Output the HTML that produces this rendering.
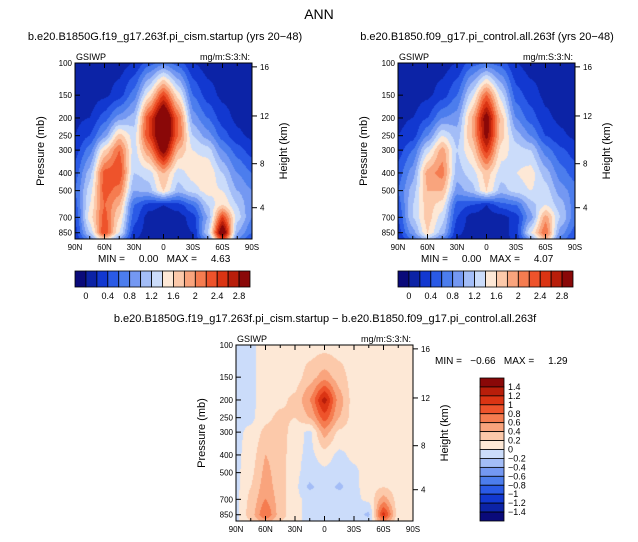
<!DOCTYPE html>
<html><head><meta charset="utf-8">
<style>
body{margin:0;background:#fff;width:638px;height:542px;overflow:hidden;position:relative;font-family:"Liberation Sans",sans-serif}
canvas{position:absolute}
svg{position:absolute;left:0;top:0}
</style></head>
<body>
<canvas id="c1" width="177" height="176" style="left:75px;top:63px"></canvas>
<canvas id="c2" width="177" height="176" style="left:398px;top:63px"></canvas>
<canvas id="c3" width="177" height="176" style="left:236px;top:345px"></canvas>
<svg id="ov" width="638" height="542"></svg>
<script>
const lats=[90,75,60,45,30,15,0,-15,-30,-45,-60,-75,-90];
const plevs=[100,150,200,250,300,400,500,600,700,850,925];
const cismField=[
[0.1,0.1,0.1,0.1,0.2,0.5,0.7,0.5,0.2,0.1,0.1,0.1,0.1],
[0.1,0.1,0.15,0.3,0.7,1.5,2.4,1.5,0.6,0.3,0.15,0.1,0.1],
[0.15,0.2,0.5,0.9,1.1,2.4,3.4,2.2,0.9,0.6,0.3,0.15,0.1],
[0.2,0.4,0.9,1.7,1.3,2.4,3.4,2.2,1.2,0.9,0.5,0.25,0.15],
[0.3,0.7,1.6,2.2,1.3,2.0,3.0,1.8,1.4,1.3,0.8,0.5,0.3],
[0.5,1.1,2.3,2.4,1.2,1.3,1.8,1.3,1.5,1.6,1.2,0.8,0.6],
[0.6,1.3,2.3,2.1,1.0,1.1,1.6,1.1,1.3,1.5,1.4,1.0,0.8],
[0.5,1.4,2.2,1.8,0.6,0.3,0.2,0.3,0.6,1.2,1.6,1.2,0.8],
[0.4,1.5,2.3,1.6,0.5,0.1,0.1,0.1,0.3,1.0,2.4,1.3,0.8],
[0.3,1.2,2.4,1.4,0.3,0.1,0.1,0.1,0.2,1.2,3.2,1.0,0.6],
[0.2,0.8,1.6,0.9,0.2,0.1,0.1,0.1,0.2,0.8,2.4,0.8,0.4]];
const controlField=[
[0.1,0.1,0.1,0.1,0.2,0.5,0.6,0.5,0.2,0.1,0.1,0.1,0.1],
[0.1,0.1,0.15,0.3,0.6,1.3,2.2,1.3,0.5,0.3,0.15,0.1,0.1],
[0.15,0.2,0.4,0.8,0.9,1.8,3.0,1.7,0.8,0.5,0.25,0.15,0.1],
[0.2,0.3,0.8,1.4,1.1,1.8,2.9,1.7,1.1,0.8,0.4,0.25,0.15],
[0.3,0.6,1.3,1.9,1.2,1.6,2.5,1.5,1.3,1.2,0.7,0.45,0.3],
[0.5,0.9,1.9,2.1,1.1,1.3,1.7,1.3,1.4,1.5,1.1,0.7,0.5],
[0.6,1.1,1.8,1.8,0.9,1.1,1.6,1.1,1.3,1.4,1.3,0.9,0.7],
[0.5,1.2,1.7,1.5,0.5,0.4,0.2,0.5,0.6,1.1,1.4,1.1,0.7],
[0.4,1.2,1.7,1.3,0.4,0.1,0.1,0.1,0.3,0.9,1.9,1.2,0.7],
[0.3,0.9,1.6,1.1,0.25,0.1,0.1,0.1,0.3,1.4,2.2,0.9,0.5],
[0.2,0.6,1.1,0.7,0.15,0.1,0.1,0.1,0.25,0.9,1.8,0.7,0.35]];
const diffField=[
[-0.05,-0.05,0.1,0.1,0.1,0.1,0.1,0.1,0.1,0.1,0.1,0.1,0.1],
[-0.05,-0.05,0.1,0.1,0.1,0.3,0.5,0.3,0.1,0.1,0.1,0.1,0.1],
[-0.05,-0.05,0.1,0.15,0.25,0.6,1.3,0.5,0.1,0.1,0.1,0.1,0.1],
[-0.05,-0.05,0.15,0.25,0.2,0.4,0.9,0.4,0.1,0.1,0.1,0.1,0.1],
[-0.05,0.05,0.25,0.3,0.1,-0.05,0.5,0.15,0.1,0.1,0.1,0.1,0.1],
[-0.05,0.1,0.4,0.3,0.05,-0.05,0.1,-0.05,0.05,0.1,0.1,0.1,0.1],
[-0.05,0.15,0.45,0.3,0.05,-0.1,-0.05,-0.1,-0.05,0.1,0.1,0.1,0.1],
[-0.05,0.2,0.5,0.3,0.05,-0.25,-0.05,-0.25,-0.05,0.1,0.2,0.1,0.1],
[-0.05,0.25,0.6,0.3,0.05,-0.05,-0.05,-0.05,-0.05,0.05,0.5,0.1,0.1],
[-0.05,0.3,0.8,0.3,0.05,-0.05,-0.05,-0.05,-0.1,-0.25,1.1,0.1,0.1],
[-0.05,0.2,0.5,0.2,0.05,-0.05,-0.05,-0.05,-0.05,-0.1,0.6,0.05,0.05]];
const topLevels=[0,0.2,0.4,0.6,0.8,1,1.2,1.4,1.6,1.8,2,2.2,2.4,2.6,2.8];
const topLabels=['0','0.4','0.8','1.2','1.6','2','2.4','2.8'];
const diffLevels=[-1.4,-1.2,-1,-0.8,-0.6,-0.4,-0.2,0,0.2,0.4,0.6,0.8,1,1.2,1.4];
const diffLabels=['1.4','1.2','1','0.8','0.6','0.4','0.2','0','\u22120.2','\u22120.4','\u22120.6','\u22120.8','\u22121','\u22121.2','\u22121.4'];
const latTicks=[90,60,30,0,-30,-60,-90];
const latLabels=['90N','60N','30N','0','30S','60S','90S'];
const pTicks=[100,150,200,250,300,400,500,700,850];
const hTicks=[4,8,12,16];
const hPress=[620,356,195,105];
const palette=['#0a0a7a','#0c23a6','#1238d0','#2a5ae6','#4c7ded','#7498f2','#a3bdf7','#cbdcfa','#fde8d6','#fcc9aa','#f9a47d','#f57c50','#ee532b','#db3413','#b81e0a','#8a0808'];
const PTOP=100,PBOT=920,W=177,H=176;
function yOfP(p){return (Math.log10(p)-2)/(Math.log10(PBOT)-2)*H;}
function pOfY(y){return Math.pow(10,2+y/H*(Math.log10(PBOT)-2));}
function xOfLat(l){return (90-l)/180*W;}
function hex(c){return [parseInt(c.substr(1,2),16),parseInt(c.substr(3,2),16),parseInt(c.substr(5,2),16)];}
const rgb=palette.map(hex);
function sm(t){return t*t*(3-2*t);}
function sample(f,lat,p){
  let t=(90-lat)/15;let i=Math.min(11,Math.max(0,Math.floor(t)));let fx=Math.min(1,Math.max(0,t-i));
  let lp=Math.log10(p);let j=0;
  while(j<plevs.length-2&&Math.log10(plevs[j+1])<lp)j++;
  let a=Math.log10(plevs[j]),b=Math.log10(plevs[j+1]);let fy=Math.min(1,Math.max(0,(lp-a)/(b-a)));
  fx=sm(fx)*0.5+fx*0.5;
  let v0=f[j][i]*(1-fx)+f[j][i+1]*fx, v1=f[j+1][i]*(1-fx)+f[j+1][i+1]*fx;
  return v0*(1-fy)+v1*fy;
}
function drawField(id,f,levels){
  const cv=document.getElementById(id),ctx=cv.getContext('2d');
  const img=ctx.createImageData(W,H);
  for(let y=0;y<H;y++){const p=pOfY(y+0.5);for(let x=0;x<W;x++){
    const lat=90-(x+0.5)/W*180;const v=sample(f,lat,p);
    let k=0;while(k<levels.length&&levels[k]<v)k++;
    const c=rgb[k];const o=(y*W+x)*4;img.data[o]=c[0];img.data[o+1]=c[1];img.data[o+2]=c[2];img.data[o+3]=255;}}
  ctx.putImageData(img,0,0);
}
drawField('c1',cismField,topLevels);
drawField('c2',controlField,topLevels);
drawField('c3',diffField,diffLevels);
const ov=document.getElementById('ov');const NS='http://www.w3.org/2000/svg';
function el(tag,attrs,text){const e=document.createElementNS(NS,tag);for(const k in attrs)e.setAttribute(k,attrs[k]);if(text!==undefined)e.textContent=text;ov.appendChild(e);return e;}
function txt(x,y,s,size,anchor,name,extra){const e=el('text',Object.assign({x:x,y:y,'font-size':size,'text-anchor':anchor||'start',fill:'#000','font-family':'Liberation Sans, sans-serif',style:'white-space:pre'},extra||{}),s);

return e;}
function axes(x0,y0,pfx){
  const fr=el('rect',{x:x0,y:y0,width:W,height:H,fill:'none',stroke:'#000','stroke-width':1});
  
  
  for(let l=90;l>=-90;l-=15){const x=x0+xOfLat(l);const major=l%30===0;const len=major?5:3;
    el('line',{x1:x,y1:y0+H,x2:x,y2:y0+H-len,stroke:'#000'});el('line',{x1:x,y1:y0,x2:x,y2:y0+len,stroke:'#000'});}
  latTicks.forEach((l,i)=>{txt(x0+xOfLat(l),y0+H+11,latLabels[i],8,'middle',pfx+'-lat-label');});
  pTicks.forEach(p=>{const y=y0+yOfP(p);el('line',{x1:x0,y1:y,x2:x0+5,y2:y,stroke:'#000'});
    txt(x0-3,y+3,String(p),8,'end',pfx+'-pressure-label');});
  hTicks.forEach((h,i)=>{const y=y0+yOfP(hPress[i]);el('line',{x1:x0+W,y1:y,x2:x0+W+5,y2:y,stroke:'#000'});
    txt(x0+W+8,y+3,String(h),8,'start',pfx+'-height-label');});
  txt(x0-34,y0+H/2,'Pressure (mb)',11,'middle',pfx+'-y-axis-title',{transform:`rotate(-90 ${x0-34} ${y0+H/2})`,'dominant-baseline':'middle'});
  txt(x0+W+32,y0+H/2,'Height (km)',11,'middle',pfx+'-right-axis-title',{transform:`rotate(-90 ${x0+W+32} ${y0+H/2})`,'dominant-baseline':'middle'});
  txt(x0+1,y0-3,'GSIWP',9,'start',pfx+'-variable-label');
  txt(x0+W-2,y0-3,'mg/m:S:3:N:',9,'end',pfx+'-units-label');
}
function hbar(x0,y0,pfx){
  const bw=175/16;
  palette.forEach((c,i)=>{const r=el('rect',{x:x0+i*bw,y:y0,width:bw,height:16,fill:c,stroke:'#000','stroke-width':0.8});
    
    });
  topLabels.forEach((s,i)=>{txt(x0+(1+2*i)*bw,y0+28,s,9,'middle',pfx+'-colorbar-label');});
}
txt(319,19,'ANN',14,'middle','figure-title');
txt(165,40,'b.e20.B1850G.f19_g17.263f.pi_cism.startup (yrs 20\u221248)',11,'middle','left-panel-title');
txt(487,40,'b.e20.B1850.f09_g17.pi_control.all.263f (yrs 20\u221248)',11,'middle','right-panel-title');
txt(325,322,'b.e20.B1850G.f19_g17.263f.pi_cism.startup \u2212 b.e20.B1850.f09_g17.pi_control.all.263f',11,'middle','difference-panel-title');
axes(75,63,'left');axes(398,63,'right');axes(236,345,'diff');
txt(98,262,'MIN =     0.00   MAX =     4.63',10,'start','left-min-max');
txt(421,262,'MIN =     0.00   MAX =     4.07',10,'start','right-min-max');
txt(435,364,'MIN =   \u22120.66   MAX =     1.29',10,'start','diff-min-max');
hbar(75,271,'left');hbar(398,271,'right');
const bh=143/16;
palette.slice().reverse().forEach((c,i)=>{const r=el('rect',{x:480,y:378+i*bh,width:24,height:bh,fill:c,stroke:'#000','stroke-width':0.8});
  
  });
diffLabels.forEach((s,i)=>{txt(508,378+(i+1)*bh+3,s,9,'start','diff-colorbar-label');});
</script>
</body></html>
